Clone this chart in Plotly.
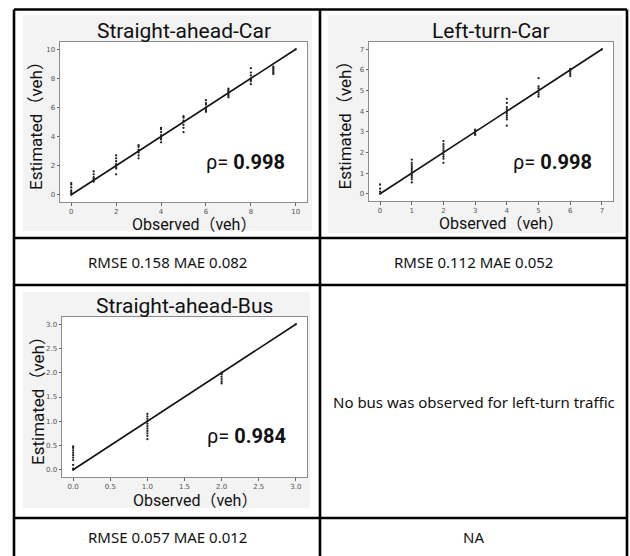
import plotly.graph_objects as go

W, H = 630, 556

# ---------------- data ----------------
titles = ["Straight-ahead-Car", "Left-turn-Car", "Straight-ahead-Bus"]
rho_values = ["0.998", "0.998", "0.984"]
metrics = ["RMSE 0.158 MAE 0.082", "RMSE 0.112 MAE 0.052", "RMSE 0.057 MAE 0.012", "NA"]
no_bus_text = "No bus was observed for left-turn traffic"

# Straight-ahead car
car_s_obs = ([0]*7 + [1]*6 + [2]*8 + [3]*7 + [4]*8 + [5]*7 + [6]*7 + [7]*7 + [8]*7 + [9]*6 + [10])
car_s_est = ([0.0, 0.1, 0.2, 0.3, 0.5, 0.7, 0.8] +
             [0.9, 1.0, 1.1, 1.2, 1.4, 1.6] +
             [1.4, 1.8, 1.9, 2.0, 2.1, 2.3, 2.5, 2.7] +
             [2.5, 2.7, 2.9, 3.0, 3.1, 3.3, 3.4] +
             [3.6, 3.8, 3.9, 4.0, 4.1, 4.3, 4.5, 4.6] +
             [4.3, 4.6, 4.8, 5.0, 5.1, 5.3, 5.4] +
             [5.7, 5.8, 5.9, 6.0, 6.2, 6.3, 6.5] +
             [6.7, 6.8, 6.9, 7.0, 7.1, 7.2, 7.3] +
             [7.6, 7.8, 7.9, 8.0, 8.2, 8.4, 8.7] +
             [8.3, 8.4, 8.5, 8.6, 8.7, 8.8] +
             [10.0])
car_s_fit_x = [0, 10]
car_s_fit_y = [0, 10]

# Left-turn car
car_l_obs = ([0]*4 + [1]*11 + [2]*10 + [3]*5 + [4]*10 + [5]*7 + [6]*5 + [7])
car_l_est = ([0.0, 0.1, 0.25, 0.45] +
             [0.55, 0.7, 0.8, 0.9, 1.0, 1.1, 1.2, 1.3, 1.4, 1.5, 1.65] +
             [1.5, 1.7, 1.8, 1.9, 2.0, 2.1, 2.2, 2.3, 2.4, 2.55] +
             [2.85, 2.9, 3.0, 3.05, 3.1] +
             [3.3, 3.6, 3.7, 3.8, 3.9, 4.0, 4.1, 4.2, 4.4, 4.6] +
             [4.7, 4.8, 4.9, 5.0, 5.1, 5.2, 5.6] +
             [5.7, 5.8, 5.9, 6.0, 6.05] +
             [7.0])
car_l_fit_x = [0, 7]
car_l_fit_y = [0, 7]

# Straight-ahead bus
bus_s_obs = ([0]*10 + [1]*11 + [2]*6 + [3])
bus_s_est = ([0.0, 0.02, 0.1, 0.2, 0.25, 0.3, 0.35, 0.4, 0.45, 0.48] +
             [0.63, 0.7, 0.75, 0.8, 0.85, 0.9, 0.95, 1.0, 1.05, 1.1, 1.15] +
             [1.78, 1.82, 1.87, 1.92, 1.97, 2.0] +
             [3.0])
bus_s_fit_x = [0, 3]
bus_s_fit_y = [0, 3]

ticks_car_s = [0, 2, 4, 6, 8, 10]
ticks_car_l = [0, 1, 2, 3, 4, 5, 6, 7]
ticks_bus_s = [0.0, 0.5, 1.0, 1.5, 2.0, 2.5, 3.0]

# ---------------- helpers ----------------
def fx(px):
    return px / W

def fy(py):
    return 1 - py / H

TITLE_FONT = "Roboto, 'Noto Sans CJK JP', sans-serif"
CELL_FONT = "'Noto Sans', 'Noto Sans CJK KR', sans-serif"

fig = go.Figure()

panels = [
    dict(obs=car_s_obs, est=car_s_est, fx_=car_s_fit_x, fy_=car_s_fit_y, ticks=ticks_car_s,
         rng=[-0.5, 10.5], box=(60, 307, 42, 202), img=(23, 312, 15, 231), fmt="d",
         title=titles[0], rho=rho_values[0], rho_pos=(245, 162)),
    dict(obs=car_l_obs, est=car_l_est, fx_=car_l_fit_x, fy_=car_l_fit_y, ticks=ticks_car_l,
         rng=[-0.35, 7.35], box=(369, 613, 42, 201), img=(328, 623, 15, 233), fmt="d",
         title=titles[1], rho=rho_values[1], rho_pos=(552, 162)),
    dict(obs=bus_s_obs, est=bus_s_est, fx_=bus_s_fit_x, fy_=bus_s_fit_y, ticks=ticks_bus_s,
         rng=[-0.15, 3.15], box=(62, 307, 317, 477), img=(23, 310, 292, 508), fmt=".1f",
         title=titles[2], rho=rho_values[2], rho_pos=(246, 436)),
]

shapes = []
annotations = []
layout_axes = {}

for i, p in enumerate(panels):
    n = "" if i == 0 else str(i + 1)
    xa, ya = "x" + n, "y" + n
    x0, x1, y0, y1 = p["box"]
    ix0, ix1, iy0, iy1 = p["img"]
    # grey image background
    shapes.append(dict(type="rect", xref="paper", yref="paper", x0=fx(ix0), x1=fx(ix1),
                       y0=fy(iy1), y1=fy(iy0), fillcolor="#f3f3f3", line=dict(width=0), layer="below"))
    shapes.append(dict(type="rect", xref="paper", yref="paper", x0=fx(x0), x1=fx(x1),
                       y0=fy(y1), y1=fy(y0), fillcolor="#ffffff", line=dict(width=0), layer="below"))

    fig.add_trace(go.Scatter(x=p["fx_"], y=p["fy_"], mode="lines", xaxis=xa, yaxis=ya,
                             line=dict(color="#111111", width=1.6), showlegend=False, hoverinfo="skip"))
    fig.add_trace(go.Scatter(x=p["obs"], y=p["est"], mode="markers", xaxis=xa, yaxis=ya,
                             marker=dict(color="#222222", size=2.3), showlegend=False))

    axstyle = dict(showline=True, mirror=True, linecolor="#8c8c8c", linewidth=1, ticks="outside",
                   ticklen=2.5, tickcolor="#666", tickfont=dict(size=7, color="#555", family="DejaVu Sans"),
                   showgrid=False, zeroline=False, range=p["rng"], tickvals=p["ticks"],
                   tickformat=p["fmt"], fixedrange=True)
    layout_axes["xaxis" + n] = dict(axstyle, domain=[fx(x0), fx(x1)], anchor=ya)
    layout_axes["yaxis" + n] = dict(axstyle, domain=[fy(y1), fy(y0)], anchor=xa)

    cx = (x0 + x1) / 2
    cy = (y0 + y1) / 2
    annotations.append(dict(text=p["title"], xref="paper", yref="paper", x=fx(cx), y=fy(y0 - 11),
                            showarrow=False, xanchor="center", yanchor="middle",
                            font=dict(size=21, color="#111", family=TITLE_FONT)))
    annotations.append(dict(text="Observed（veh）", xref="paper", yref="paper", x=fx(cx + 10), y=fy(y1 + 23),
                            showarrow=False, xanchor="center", yanchor="middle",
                            font=dict(size=16, color="#111", family=TITLE_FONT)))
    annotations.append(dict(text="Estimated（veh）", xref="paper", yref="paper", x=fx(x0 - 24), y=fy(cy),
                            showarrow=False, xanchor="center", yanchor="middle", textangle=-90,
                            font=dict(size=17, color="#111", family=TITLE_FONT)))
    rx, ry = p["rho_pos"]
    annotations.append(dict(text="ρ= <b>" + p["rho"] + "</b>", xref="paper", yref="paper",
                            x=fx(rx), y=fy(ry), showarrow=False, xanchor="center", yanchor="middle",
                            font=dict(size=20, color="#111", family=TITLE_FONT)))

# table lines
L, R, M = 14, 627, 320
T, H1, H2, H3 = 9.5, 238, 285, 518
line = dict(color="#000000", width=2.6)
for yy in [T, H1, H2, H3]:
    shapes.append(dict(type="line", xref="paper", yref="paper", x0=fx(L), x1=fx(R),
                       y0=fy(yy), y1=fy(yy), line=line, layer="above"))
for xx in [L, M, R]:
    shapes.append(dict(type="line", xref="paper", yref="paper", x0=fx(xx), x1=fx(xx),
                       y0=fy(T), y1=fy(H + 5), line=line, layer="above"))

# cell texts
cells = [(metrics[0], (L + M) / 2, (H1 + H2) / 2),
         (metrics[1], (M + R) / 2, (H1 + H2) / 2),
         (no_bus_text, (M + R) / 2, (H2 + H3) / 2),
         (metrics[2], (L + M) / 2, (H3 + H) / 2),
         (metrics[3], (M + R) / 2, (H3 + H) / 2)]
for txt, cx, cy in cells:
    annotations.append(dict(text=txt, xref="paper", yref="paper", x=fx(cx), y=fy(cy),
                            showarrow=False, xanchor="center", yanchor="middle",
                            font=dict(size=15, color="#111", family=CELL_FONT)))

fig.update_layout(width=W, height=H, margin=dict(l=0, r=0, t=0, b=0),
                  paper_bgcolor="white", plot_bgcolor="white",
                  shapes=shapes, annotations=annotations, **layout_axes)

fig.write_html("out.html", config={"displayModeBar": False},
               post_script="document.body.style.margin='0';document.body.style.overflow='hidden';")
